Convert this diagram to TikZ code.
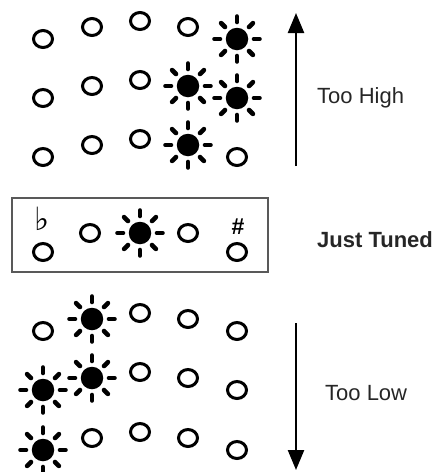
\documentclass[tikz,border=0pt]{standalone}
\usepackage{fontspec}
\setmainfont{Liberation Sans}
\newfontfamily\accfont{DejaVu Sans}
\usetikzlibrary{arrows.meta,shapes.geometric,positioning}
\tikzset{
  off/.style={ellipse,draw=black,line width=3pt,minimum width=19pt,minimum height=17pt,inner sep=0pt},
  on/.style={circle,fill=black,minimum size=22.5pt,inner sep=0pt},
  ray/.style={draw=black,line width=4.6pt,line cap=round},
  tunebox/.style={draw=black!65,line width=2pt},
  dir/.style={-{Triangle[length=20pt,width=16pt]},line width=2.4pt,draw=black},
  lbl/.style={font=\fontsize{22}{26}\selectfont,text=black!85,inner sep=0pt,anchor=west},
  acc/.style={inner sep=0pt},
}

\begin{document}
\begin{tikzpicture}[x=1pt,y=-1pt]
\useasboundingbox (0,0) rectangle (444,472);
% each row bends up in the middle: five lamps, ends lower than the centre
\foreach \row/\base/\states in {hi1/21/{off,off,off,off,on},
    hi2/80/{off,off,off,on,on}, hi3/139/{off,off,off,on,off},
    lo1/313/{off,on,off,off,off}, lo2/372/{on,on,off,off,off},
    lo3/432/{on,off,off,off,off}}{
  \foreach \st [count=\i] in \states {
    \pgfmathsetmacro{\px}{{43,92,140,188,237}[\i-1]}
    \pgfmathsetmacro{\py}{\base+{18,6,0,6,18}[\i-1]}
    \node[\st] (\row-\i) at (\px,\py) {};
  }
}
% the tuned row sits in a box, flat and sharp marks over its ends
\foreach \st/\px/\py [count=\i] in {off/43/252,off/90/233,on/140/233,off/188/233,off/237/252}
  \node[\st] (mid-\i) at (\px,\py) {};
\node[acc,font=\accfont\fontsize{32}{32}\selectfont] (flat) at (42,219) {♭};
\node[acc,font=\bfseries\fontsize{23}{23}\selectfont] (sharp) at (238,227) {\#};
\draw[tunebox] (12,198) rectangle (268,272);
% rays round every lit lamp
\foreach \s in {hi1-5,hi2-4,hi2-5,hi3-4,mid-3,lo1-2,lo2-1,lo2-2,lo3-1}
  \foreach \a in {0,45,...,315}
    \draw[ray] (\s.center) ++(\a:17) -- ++(\a:5.5);
% direction arrows and labels
\coordinate (hiFoot) at (296,166); \coordinate (hiTip) at (296,13);
\coordinate (loFoot) at (296,323); \coordinate (loTip) at (296,470);
\draw[dir] (hiFoot) -- (hiTip);
\draw[dir] (loFoot) -- (loTip);
\node[lbl] (high) at (317,98) {Too High};
\node[lbl,font=\fontsize{22}{26}\selectfont\bfseries] (tuned) at (317,240) {Just Tuned};
\node[lbl] (low) at (325,393) {Too Low};
\end{tikzpicture}
\end{document}
